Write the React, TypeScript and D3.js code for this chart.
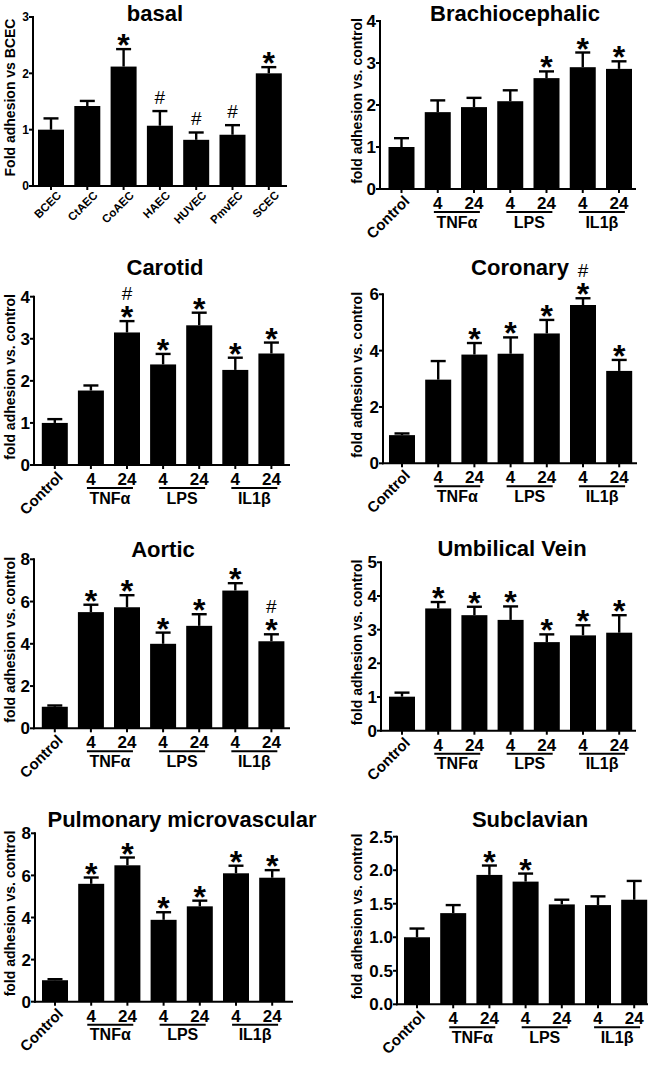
import React from 'react';
import * as d3 from 'd3';

// ---------- data ----------
const basalCategories = ['BCEC', 'CtAEC', 'CoAEC', 'HAEC', 'HUVEC', 'PmvEC', 'SCEC'];
const treatmentCategories = ['Control', 'TNFα 4', 'TNFα 24', 'LPS 4', 'LPS 24', 'IL1β 4', 'IL1β 24'];
const hourLabels = ['', '4', '24', '4', '24', '4', '24'];
const groupLabels = ['TNFα', 'LPS', 'IL1β'];

const basalMean = [1.0, 1.42, 2.12, 1.07, 0.82, 0.91, 2.0];
const basalUpper = [1.2, 1.51, 2.43, 1.33, 0.95, 1.08, 2.11];
const basalMarks = ['', '', '*', '#', '#', '#', '*'];

const brachioMean = [1.0, 1.83, 1.95, 2.09, 2.64, 2.9, 2.86];
const brachioUpper = [1.21, 2.11, 2.17, 2.35, 2.8, 3.25, 3.04];
const brachioMarks = ['', '', '', '', '*', '*', '*'];

const carotidMean = [1.0, 1.77, 3.15, 2.39, 3.32, 2.26, 2.65];
const carotidUpper = [1.09, 1.89, 3.42, 2.64, 3.62, 2.55, 2.91];
const carotidMarks = ['', '', '*#', '*', '*', '*', '*'];

const coronaryMean = [1.0, 2.97, 3.86, 3.89, 4.61, 5.62, 3.28];
const coronaryUpper = [1.06, 3.63, 4.27, 4.47, 5.09, 5.86, 3.67];
const coronaryMarks = ['', '', '*', '*', '*', '*#', '*'];

const aorticMean = [1.02, 5.5, 5.73, 4.0, 4.85, 6.52, 4.12];
const aorticUpper = [1.08, 5.85, 6.3, 4.53, 5.4, 6.87, 4.45];
const aorticMarks = ['', '*', '*', '*', '*', '*', '*#'];

const umbilicalMean = [1.01, 3.63, 3.43, 3.29, 2.63, 2.83, 2.91];
const umbilicalUpper = [1.13, 3.82, 3.68, 3.69, 2.86, 3.13, 3.43];
const umbilicalMarks = ['', '*', '*', '*', '*', '*', '*'];

const pulmonaryMean = [1.02, 5.6, 6.48, 3.89, 4.53, 6.1, 5.89];
const pulmonaryUpper = [1.07, 5.9, 6.85, 4.25, 4.8, 6.46, 6.25];
const pulmonaryMarks = ['', '*', '*', '*', '*', '*', '*'];

const subclavianMean = [1.0, 1.36, 1.93, 1.83, 1.49, 1.48, 1.56];
const subclavianUpper = [1.13, 1.48, 2.07, 1.95, 1.56, 1.61, 1.84];
const subclavianMarks = ['', '', '*', '*', '', '', ''];

const ticks3 = [0, 1, 2, 3];
const ticks4 = [0, 1, 2, 3, 4];
const ticks5 = [0, 1, 2, 3, 4, 5];
const ticks6 = [0, 2, 4, 6];
const ticks8 = [0, 2, 4, 6, 8];
const ticks25 = [0, 0.5, 1.0, 1.5, 2.0, 2.5];

const FONT = '"Liberation Sans", Arial, Helvetica, sans-serif';
const YLABEL = 'fold adhesion vs. control';

// ---------- panel layout (positions only) ----------
const panels = [
  { title: 'basal', tx: 155, ty: 21, x0: 33, xEnd: 287, y0: 186, yTop: 17, yMax: 3, ticks: ticks3, fmt: 'd',
    c0: 51, step: 36.3, cats: basalCategories, mean: basalMean, upper: basalUpper, marks: basalMarks,
    ylabel: 'Fold adhesion vs BCEC', lx: 15, tickFont: 12, basal: true },
  { title: 'Brachiocephalic', tx: 515, ty: 21, x0: 380, xEnd: 636, y0: 189, yTop: 21, yMax: 4, ticks: ticks4, fmt: 'd',
    c0: 401.5, step: 36.25, cats: treatmentCategories, mean: brachioMean, upper: brachioUpper, marks: brachioMarks,
    ylabel: YLABEL, lx: 362, tickFont: 17 },
  { title: 'Carotid', tx: 165, ty: 275, x0: 34, xEnd: 290, y0: 465, yTop: 296.7, yMax: 4, ticks: ticks4, fmt: 'd',
    c0: 54.8, step: 36.1, cats: treatmentCategories, mean: carotidMean, upper: carotidUpper, marks: carotidMarks,
    ylabel: YLABEL, lx: 15, tickFont: 17 },
  { title: 'Coronary', tx: 520, ty: 275, x0: 383, xEnd: 637, y0: 463.3, yTop: 294.3, yMax: 6, ticks: ticks6, fmt: 'd',
    c0: 402, step: 36.2, cats: treatmentCategories, mean: coronaryMean, upper: coronaryUpper, marks: coronaryMarks,
    ylabel: YLABEL, lx: 362, tickFont: 17 },
  { title: 'Aortic', tx: 163, ty: 557, x0: 34, xEnd: 290, y0: 728.3, yTop: 559.3, yMax: 8, ticks: ticks8, fmt: 'd',
    c0: 54.8, step: 36.1, cats: treatmentCategories, mean: aorticMean, upper: aorticUpper, marks: aorticMarks,
    ylabel: YLABEL, lx: 15, tickFont: 17 },
  { title: 'Umbilical Vein', tx: 512, ty: 556, x0: 381, xEnd: 636, y0: 730.7, yTop: 562.3, yMax: 5, ticks: ticks5, fmt: 'd',
    c0: 402, step: 36.2, cats: treatmentCategories, mean: umbilicalMean, upper: umbilicalUpper, marks: umbilicalMarks,
    ylabel: YLABEL, lx: 362, tickFont: 17 },
  { title: 'Pulmonary microvascular', tx: 182, ty: 827, x0: 35, xEnd: 293, y0: 1001.7, yTop: 833.3, yMax: 8, ticks: ticks8, fmt: 'd',
    c0: 55, step: 36.2, cats: treatmentCategories, mean: pulmonaryMean, upper: pulmonaryUpper, marks: pulmonaryMarks,
    ylabel: YLABEL, lx: 15, tickFont: 17 },
  { title: 'Subclavian', tx: 530, ty: 827, x0: 397, xEnd: 648, y0: 1004.3, yTop: 836.7, yMax: 2.5, ticks: ticks25, fmt: '.1f',
    c0: 417, step: 36.2, cats: treatmentCategories, mean: subclavianMean, upper: subclavianUpper, marks: subclavianMarks,
    ylabel: YLABEL, lx: 362, tickFont: 17 },
];

const BAR_W = 26;
const CAP = 7.5;

function Panel({ p }: { p: any }) {
  const y = d3.scaleLinear().domain([0, p.yMax]).range([p.y0, p.yTop]);
  const n = p.cats.length;
  const pad = 1 - BAR_W / p.step;
  const x = d3
    .scaleBand<string>()
    .domain(p.cats)
    .range([p.c0 - p.step / 2, p.c0 - p.step / 2 + p.step * n])
    .paddingInner(pad)
    .paddingOuter(pad / 2);
  const fmt = d3.format(p.fmt);
  const cx = (c: string) => (x(c) as number) + x.bandwidth() / 2;
  const midY = (p.y0 + p.yTop) / 2 - 4;

  const groups = [0, 1, 2].map((g) => {
    const a = cx(p.cats[1 + g * 2]);
    const b = cx(p.cats[2 + g * 2]);
    return { a, b, m: (a + b) / 2, label: groupLabels[g] };
  });

  return (
    <g fontFamily={FONT}>
      <text x={p.tx} y={p.ty} textAnchor="middle" fontWeight="bold" fontSize={22}>
        {p.title}
      </text>
      <text
        transform={`translate(${p.lx},${midY}) rotate(-90)`}
        textAnchor="middle"
        fontWeight="bold"
        fontSize={14}
      >
        {p.ylabel}
      </text>
      {/* bars */}
      {p.cats.map((c: string, i: number) => (
        <g key={c}>
          <line x1={cx(c)} x2={cx(c)} y1={y(p.mean[i])} y2={y(p.upper[i])} stroke="#000" strokeWidth={2.4} />
          <line x1={cx(c) - CAP} x2={cx(c) + CAP} y1={y(p.upper[i])} y2={y(p.upper[i])} stroke="#000" strokeWidth={2.4} />
          <rect x={x(c)} y={y(p.mean[i])} width={x.bandwidth()} height={p.y0 - y(p.mean[i])} fill="#000" />
        </g>
      ))}
      {/* annotations */}
      {p.cats.map((c: string, i: number) => {
        const m = p.marks[i];
        if (!m) return null;
        const capY = y(p.upper[i]);
        const out: any[] = [];
        const starY = capY - 11;
        if (m.includes('*')) {
          out.push(
            <text key="s" x={cx(c)} y={starY + 18} textAnchor="middle" fontWeight="bold" fontSize={32}>
              *
            </text>
          );
        }
        if (m.includes('#')) {
          const hy = m.includes('*') ? starY - 17 : capY - 14;
          out.push(
            <text key="h" x={cx(c)} y={hy + 6.5} textAnchor="middle" fontSize={19}>
              #
            </text>
          );
        }
        return <g key={'m' + i}>{out}</g>;
      })}
      {/* y axis */}
      <line x1={p.x0} x2={p.x0} y1={p.y0 + 1} y2={p.yTop - 1} stroke="#000" strokeWidth={2} />
      {p.ticks.map((t: number) => (
        <g key={t}>
          <line x1={p.x0 - 4} x2={p.x0} y1={y(t)} y2={y(t)} stroke="#000" strokeWidth={2} />
          <text x={p.x0 - 4} y={y(t)} dy="0.36em" textAnchor="end" fontWeight="bold" fontSize={p.tickFont}>
            {fmt(t)}
          </text>
        </g>
      ))}
      {/* x axis */}
      <line x1={p.x0 - 1} x2={p.xEnd} y1={p.y0} y2={p.y0} stroke="#000" strokeWidth={2} />
      {p.cats.map((c: string) => (
        <line key={'t' + c} x1={cx(c)} x2={cx(c)} y1={p.y0} y2={p.y0 + 4} stroke="#000" strokeWidth={2} />
      ))}
      {p.basal ? (
        p.cats.map((c: string) => (
          <text
            key={'l' + c}
            transform={`translate(${cx(c) + 11},${p.y0 + 10}) rotate(-45)`}
            textAnchor="end"
            fontWeight="bold"
            fontSize={11.5}
          >
            {c}
          </text>
        ))
      ) : (
        <g>
          <text
            transform={`translate(${cx(p.cats[0]) + 9},${p.y0 + 13}) rotate(-45)`}
            textAnchor="end"
            fontWeight="bold"
            fontSize={15}
          >
            {p.cats[0]}
          </text>
          {p.cats.slice(1).map((c: string, i: number) => (
            <text key={'h' + c} x={cx(c)} y={p.y0 + 20} textAnchor="middle" fontWeight="bold" fontSize={17}>
              {hourLabels[i + 1]}
            </text>
          ))}
          {groups.map((g) => (
            <g key={g.label}>
              <line x1={g.m - 22} x2={g.m + 24} y1={p.y0 + 23} y2={p.y0 + 23} stroke="#000" strokeWidth={2} />
              <text x={g.m + 1} y={p.y0 + 38.5} textAnchor="middle" fontWeight="bold" fontSize={16}>
                {g.label}
              </text>
            </g>
          ))}
        </g>
      )}
    </g>
  );
}

export default function App() {
  return (
    <svg
      width={655}
      height={1066}
      viewBox="0 0 655 1066"
      style={{ position: 'absolute', left: 0, top: 0, background: '#fff' }}
    >
      <rect width={655} height={1066} fill="#fff" />
      {panels.map((p) => (
        <Panel key={p.title} p={p} />
      ))}
    </svg>
  );
}
